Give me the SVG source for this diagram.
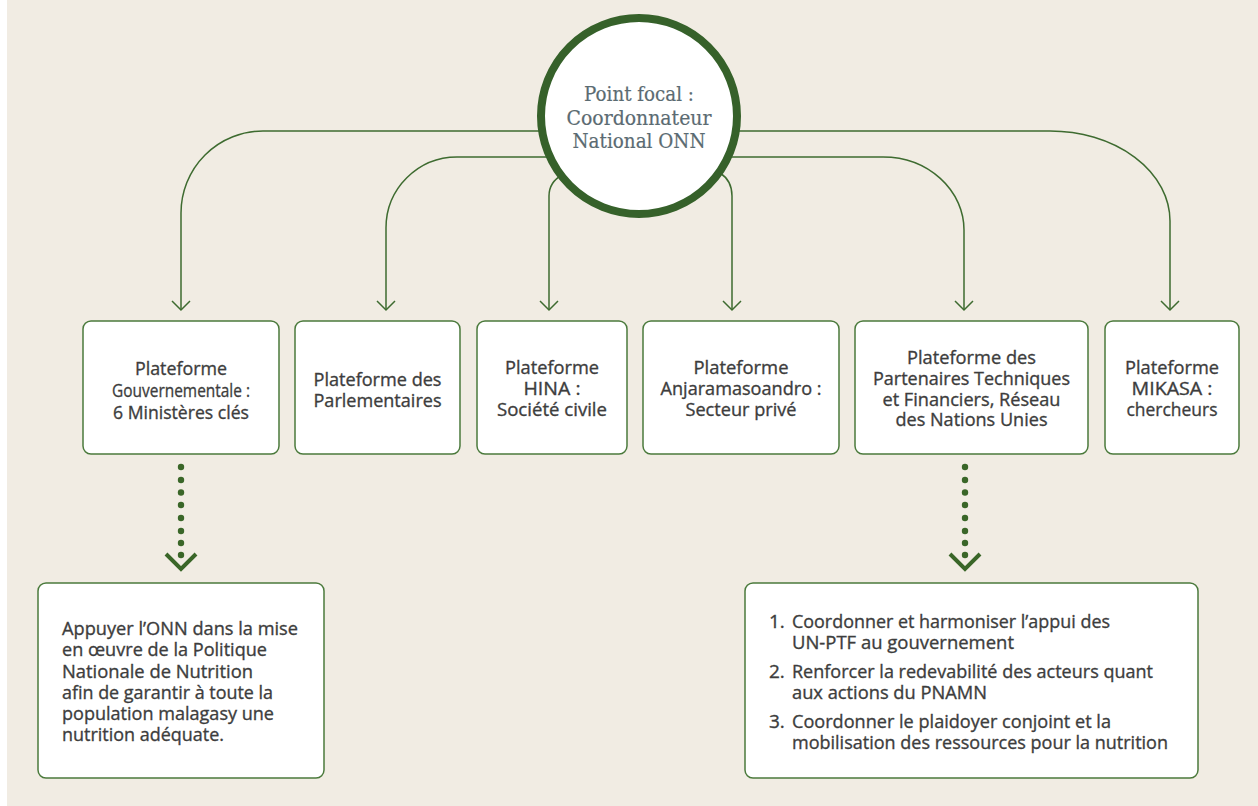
<svg xmlns="http://www.w3.org/2000/svg" width="1258" height="806" viewBox="0 0 1258 806">
  <defs>
    <style>
      .bg { fill: #f1ece3; }
      .box { fill: #ffffff; stroke: #4b7a3c; stroke-width: 1.5; }
      .hub { fill: #ffffff; stroke: #36612a; stroke-width: 8; }
      .link { fill: none; stroke: #3e6b30; stroke-width: 1.5; }
      .dot { fill: #3a6628; }
      .chev { fill: none; stroke: #3a6628; stroke-width: 4; stroke-linecap: butt; stroke-linejoin: miter; }
      .hubtxt { font-family: "DejaVu Serif", "Liberation Serif", serif; font-size: 20px; fill: #5b6b72; stroke: #5b6b72; stroke-width: 0.2; text-anchor: middle; }
      .lbl { font-family: "Open Sans", "Noto Sans", "Liberation Sans", sans-serif; font-size: 19px; fill: #3d3d3d; stroke: #3d3d3d; stroke-width: 0.35; text-anchor: middle; }
      .body { font-family: "Open Sans", "Noto Sans", "Liberation Sans", sans-serif; font-size: 19px; fill: #3d3d3d; stroke: #3d3d3d; stroke-width: 0.35; }
    </style>
    <marker id="arrow" viewBox="-10 -10 12 20" refX="0" refY="0" markerWidth="12" markerHeight="20" markerUnits="userSpaceOnUse" orient="auto" overflow="visible">
      <path d="M -9 -9 L 0 0 L -9 9" fill="none" stroke="#3e6b30" stroke-width="1.5"/>
    </marker>
  </defs>

  <rect class="bg" x="0" y="0" width="1258" height="806"/>
  <rect x="0" y="0" width="7" height="806" fill="#ffffff"/>

  <!-- connectors from the focal point to each platform -->
  <g id="connectors">
    <path class="link" marker-end="url(#arrow)" d="M 639 131 H 263 A 82 82 0 0 0 181 213 V 310"/>
    <path class="link" marker-end="url(#arrow)" d="M 639 157 H 457 A 71 71 0 0 0 386 228 V 310"/>
    <path class="link" marker-end="url(#arrow)" d="M 562 175 C 553 180 549 186 549 196 V 310"/>
    <path class="link" marker-end="url(#arrow)" d="M 720 173 C 728 178 732 185 732 196 V 310"/>
    <path class="link" marker-end="url(#arrow)" d="M 639 157 H 883 A 81 73 0 0 1 964 230 V 310"/>
    <path class="link" marker-end="url(#arrow)" d="M 639 131 H 1050 A 120 90 0 0 1 1170 221 V 310"/>

    <!-- dotted links to the mission boxes -->
    <g id="dots-left">
      <circle class="dot" cx="181" cy="467" r="3.2"/>
      <circle class="dot" cx="181" cy="480" r="3.2"/>
      <circle class="dot" cx="181" cy="492.5" r="3.2"/>
      <circle class="dot" cx="181" cy="505" r="3.2"/>
      <circle class="dot" cx="181" cy="518" r="3.2"/>
      <circle class="dot" cx="181" cy="531" r="3.2"/>
      <circle class="dot" cx="181" cy="543" r="3.2"/>
      <circle class="dot" cx="181" cy="555" r="3.2"/>
      <polyline class="chev" points="166,554 181,569 196,554"/>
    </g>
    <g id="dots-right">
      <circle class="dot" cx="965" cy="467" r="3.2"/>
      <circle class="dot" cx="965" cy="480" r="3.2"/>
      <circle class="dot" cx="965" cy="492.5" r="3.2"/>
      <circle class="dot" cx="965" cy="505" r="3.2"/>
      <circle class="dot" cx="965" cy="518" r="3.2"/>
      <circle class="dot" cx="965" cy="531" r="3.2"/>
      <circle class="dot" cx="965" cy="543" r="3.2"/>
      <circle class="dot" cx="965" cy="555" r="3.2"/>
      <polyline class="chev" points="950,554 965,569 980,554"/>
    </g>
  </g>

  <!-- focal point -->
  <g id="focal">
    <circle class="hub" cx="639" cy="116" r="98"/>
    <text class="hubtxt" x="639" y="101" textLength="110" lengthAdjust="spacingAndGlyphs">Point focal :</text>
    <text class="hubtxt" x="639" y="125" textLength="145" lengthAdjust="spacingAndGlyphs">Coordonnateur</text>
    <text class="hubtxt" x="639" y="148" textLength="133" lengthAdjust="spacingAndGlyphs">National ONN</text>
  </g>

  <!-- platforms -->
  <g id="gouvernementale">
    <rect class="box" x="83" y="321" width="196" height="133" rx="8"/>
    <text class="lbl" x="181" y="375" textLength="92" lengthAdjust="spacingAndGlyphs">Plateforme</text>
    <text class="lbl" x="181" y="397" textLength="138" lengthAdjust="spacingAndGlyphs">Gouvernementale :</text>
    <text class="lbl" x="181" y="419" textLength="136" lengthAdjust="spacingAndGlyphs">6 Ministères clés</text>
  </g>
  <g id="parlementaires">
    <rect class="box" x="295" y="321" width="165" height="133" rx="8"/>
    <text class="lbl" x="377.5" y="386" textLength="128" lengthAdjust="spacingAndGlyphs">Plateforme des</text>
    <text class="lbl" x="377.5" y="407" textLength="128" lengthAdjust="spacingAndGlyphs">Parlementaires</text>
  </g>
  <g id="hina">
    <rect class="box" x="477" y="321" width="150" height="133" rx="8"/>
    <text class="lbl" x="552" y="374" textLength="94" lengthAdjust="spacingAndGlyphs">Plateforme</text>
    <text class="lbl" x="552" y="395" textLength="57" lengthAdjust="spacingAndGlyphs">HINA :</text>
    <text class="lbl" x="552" y="416" textLength="110" lengthAdjust="spacingAndGlyphs">Société civile</text>
  </g>
  <g id="anjaramasoandro">
    <rect class="box" x="643" y="321" width="196" height="133" rx="8"/>
    <text class="lbl" x="741" y="374" textLength="95" lengthAdjust="spacingAndGlyphs">Plateforme</text>
    <text class="lbl" x="741" y="395" textLength="161" lengthAdjust="spacingAndGlyphs">Anjaramasoandro :</text>
    <text class="lbl" x="741" y="416" textLength="111" lengthAdjust="spacingAndGlyphs">Secteur privé</text>
  </g>
  <g id="ptf">
    <rect class="box" x="855" y="321" width="233" height="133" rx="8"/>
    <text class="lbl" x="971.5" y="364" textLength="129" lengthAdjust="spacingAndGlyphs">Plateforme des</text>
    <text class="lbl" x="971.5" y="385" textLength="197" lengthAdjust="spacingAndGlyphs">Partenaires Techniques</text>
    <text class="lbl" x="971.5" y="405.5" textLength="178" lengthAdjust="spacingAndGlyphs">et Financiers, Réseau</text>
    <text class="lbl" x="971.5" y="426" textLength="152" lengthAdjust="spacingAndGlyphs">des Nations Unies</text>
  </g>
  <g id="mikasa">
    <rect class="box" x="1105" y="321" width="134" height="133" rx="8"/>
    <text class="lbl" x="1172" y="374" textLength="94" lengthAdjust="spacingAndGlyphs">Plateforme</text>
    <text class="lbl" x="1172" y="395" textLength="81" lengthAdjust="spacingAndGlyphs">MIKASA :</text>
    <text class="lbl" x="1172" y="416" textLength="91" lengthAdjust="spacingAndGlyphs">chercheurs</text>
  </g>

  <!-- missions -->
  <g id="mission-gouvernementale">
    <rect class="box" x="38" y="583" width="286" height="195" rx="8"/>
    <text class="body" x="62" y="635" textLength="236" lengthAdjust="spacingAndGlyphs">Appuyer l’ONN dans la mise</text>
    <text class="body" x="62" y="656" textLength="205" lengthAdjust="spacingAndGlyphs">en œuvre de la Politique</text>
    <text class="body" x="62" y="677.5" textLength="191" lengthAdjust="spacingAndGlyphs">Nationale de Nutrition</text>
    <text class="body" x="62" y="699" textLength="211" lengthAdjust="spacingAndGlyphs">afin de garantir à toute la</text>
    <text class="body" x="62" y="720" textLength="212" lengthAdjust="spacingAndGlyphs">population malagasy une</text>
    <text class="body" x="62" y="741" textLength="162" lengthAdjust="spacingAndGlyphs">nutrition adéquate.</text>
  </g>
  <g id="mission-ptf">
    <rect class="box" x="745" y="583" width="453" height="195" rx="8"/>
    <text class="body" x="769" y="628">1.</text>
    <text class="body" x="792" y="628" textLength="318" lengthAdjust="spacingAndGlyphs">Coordonner et harmoniser l’appui des</text>
    <text class="body" x="792" y="649" textLength="222" lengthAdjust="spacingAndGlyphs">UN-PTF au gouvernement</text>
    <text class="body" x="769" y="678">2.</text>
    <text class="body" x="792" y="678" textLength="361" lengthAdjust="spacingAndGlyphs">Renforcer la redevabilité des acteurs quant</text>
    <text class="body" x="792" y="699" textLength="195" lengthAdjust="spacingAndGlyphs">aux actions du PNAMN</text>
    <text class="body" x="769" y="728">3.</text>
    <text class="body" x="792" y="728" textLength="319" lengthAdjust="spacingAndGlyphs">Coordonner le plaidoyer conjoint et la</text>
    <text class="body" x="792" y="749" textLength="376" lengthAdjust="spacingAndGlyphs">mobilisation des ressources pour la nutrition</text>
  </g>
</svg>
